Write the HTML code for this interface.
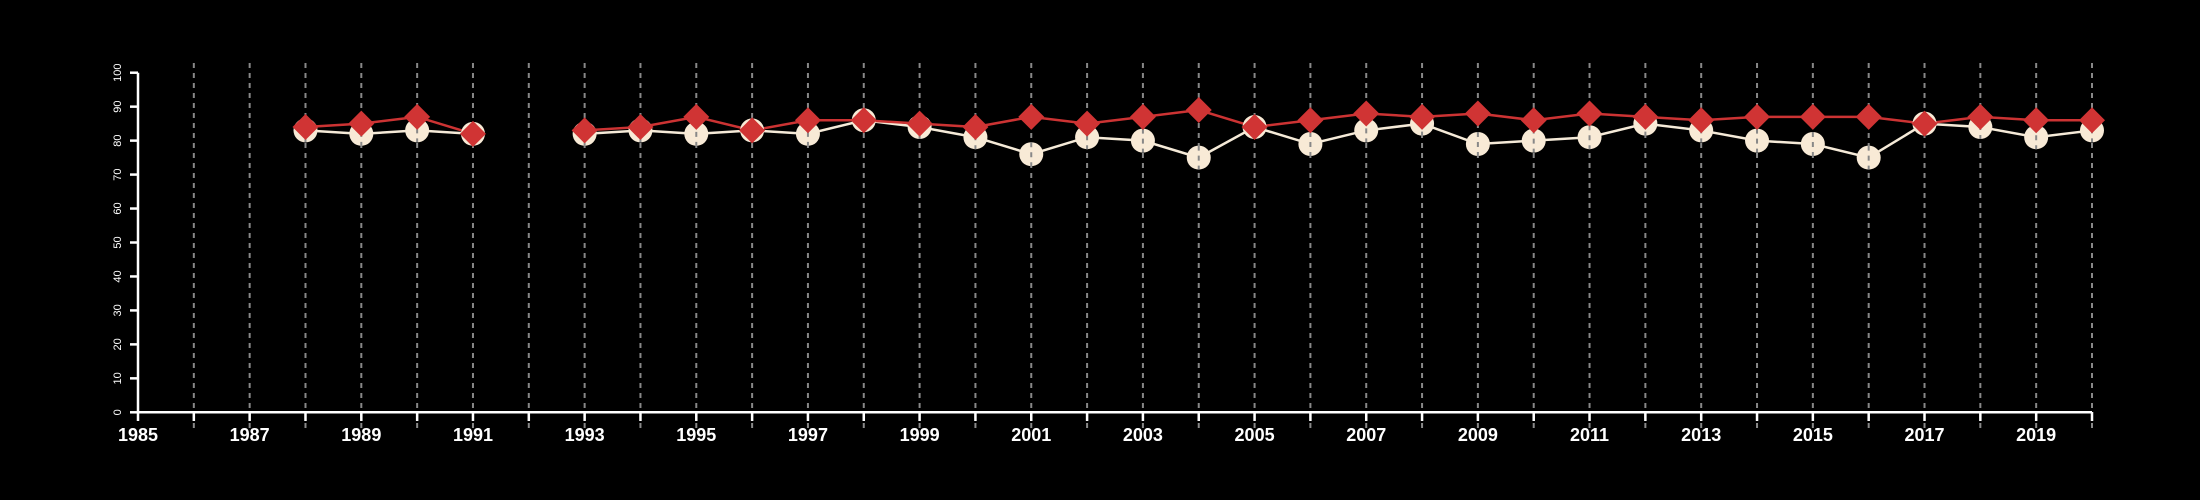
<!DOCTYPE html>
<html><head><meta charset="utf-8"><style>html,body{margin:0;background:#000}svg{display:block}</style></head>
<body>
<svg id="chart" width="2200" height="500" xmlns="http://www.w3.org/2000/svg" font-family="Liberation Sans, sans-serif">
<rect width="2200" height="500" fill="#000"/>
<g id="grid"></g><g id="axes"></g><g id="series"></g>
</svg>
<script>
const years = [1988,1989,1990,1991,1992,1993,1994,1995,1996,1997,1998,1999,2000,2001,2002,2003,2004,2005,2006,2007,2008,2009,2010,2011,2012,2013,2014,2015,2016,2017,2018,2019,2020];
const whiteSeries = [83,82,83,82,null,82,83,82,83,82,86,84,81,76,81,80,75,84,79,83,85,79,80,81,85,83,80,79,75,85,84,81,83];
const redSeries = [84,85,87,82,null,83,84,87,83,86,86,85,84,87,85,87,89,84,86,88,87,88,86,88,87,86,87,87,87,85,87,86,86];
const yTicks = [0,10,20,30,40,50,60,70,80,90,100];
const xMin=1985, xMax=2020;
const ns="http://www.w3.org/2000/svg";
const X=v=>138+(v-xMin)*(2092-138)/(xMax-xMin);
const Y=v=>412.3-v*3.396;
function mk(tag,attrs,parent){const e=document.createElementNS(ns,tag);for(const k in attrs)e.setAttribute(k,attrs[k]);parent.appendChild(e);return e;}
const grid=document.getElementById('grid'),axes=document.getElementById('axes'),ser=document.getElementById('series');
for(let yr=xMin+1;yr<=xMax;yr++){
  const l=mk('line',{x1:X(yr),x2:X(yr),y1:63,y2:428,stroke:'#888','stroke-width':2,'stroke-dasharray':'5,5'},grid);
  
  
}
let a=mk('line',{x1:X(xMin),x2:X(xMax),y1:412.3,y2:412.3,stroke:'#fff','stroke-width':2.5},axes);


a=mk('line',{x1:138,x2:138,y1:Y(100),y2:Y(0),stroke:'#fff','stroke-width':2.5},axes);


for(let yr=xMin;yr<=xMax;yr++){
  const t=mk('line',{x1:X(yr),x2:X(yr),y1:412,y2:421,stroke:'#fff','stroke-width':2.5},axes);
  
  
  if((yr-xMin)%2===0){
    const tx=mk('text',{x:X(yr),y:441,fill:'#fff','font-size':18,'font-weight':'bold','text-anchor':'middle'},axes);
    tx.textContent=yr;
    
    
  }
}
yTicks.forEach(v=>{
  const t=mk('line',{x1:130,x2:138,y1:Y(v),y2:Y(v),stroke:'#fff','stroke-width':2.5},axes);
  
  
  const tx=mk('text',{x:0,y:0,fill:'#fff','font-size':11,'text-anchor':'middle',transform:`translate(121,${Y(v)}) rotate(-90)`},axes);
  tx.textContent=v;
  
  
});
function segments(vals){const segs=[];let cur=[];vals.forEach((v,i)=>{if(v==null){if(cur.length)segs.push(cur);cur=[];}else cur.push([X(years[i]),Y(v)]);});if(cur.length)segs.push(cur);return segs;}
function drawLine(vals,color,name){
  segments(vals).forEach(s=>{
    const p=mk('polyline',{points:s.map(q=>q.join(',')).join(' '),fill:'none',stroke:color,'stroke-width':2.5},ser);
    
    
  });
}
drawLine(whiteSeries,'#f5ead8','white-series');
drawLine(redSeries,'#cc3333','red-series');
whiteSeries.forEach((v,i)=>{ if(v==null)return;
  const c=mk('circle',{cx:X(years[i]),cy:Y(v),r:12,fill:'#f8ead6'},ser);
  
  
  const g=mk('line',{x1:X(years[i]),x2:X(years[i]),y1:Y(v)-12,y2:Y(v)+12,stroke:'#888','stroke-width':2,'stroke-dasharray':'5,5'},ser);
  
  
});
redSeries.forEach((v,i)=>{ if(v==null)return;
  const x=X(years[i]),y=Y(v),d=13;
  const p=mk('polygon',{points:`${x},${y-d} ${x+d},${y} ${x},${y+d} ${x-d},${y}`,fill:'#d03434'},ser);
  
  
});
</script>
</body></html>
